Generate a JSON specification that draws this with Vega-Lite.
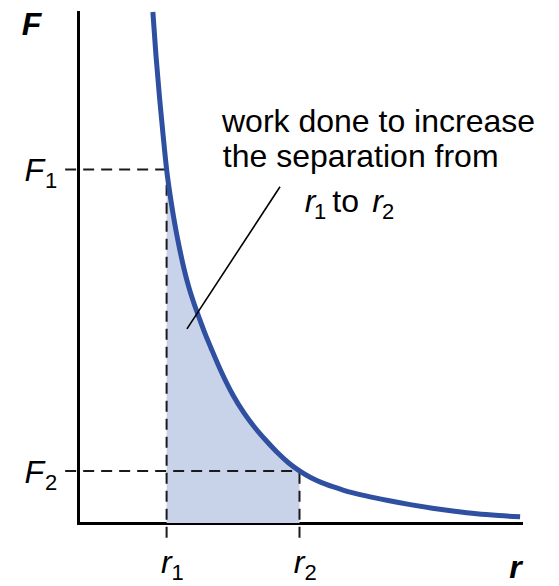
{
  "$schema": "https://vega.github.io/schema/vega-lite/v6.json",
  "width": 443,
  "height": 511,
  "autosize": "none",
  "padding": {"left": 78, "top": 12, "right": 38, "bottom": 63},
  "background": "white",
  "config": {
    "view": {"stroke": null},
    "font": "Liberation Sans",
    "axis": {
      "domainColor": "black",
      "domainWidth": 3,
      "domainCap": "square",
      "ticks": false,
      "labels": false,
      "grid": false,
      "zindex": 1,
      "titleFont": "Liberation Sans",
      "titleFontSize": 32,
      "titleFontStyle": "italic",
      "titleFontWeight": "bold",
      "titleColor": "black",
      "titleAlign": "center",
      "titleBaseline": "alphabetic"
    }
  },
  "datasets": {
    "curve": [
      {"r": 1.69, "F": 10.0},
      {"r": 1.76, "F": 9.15},
      {"r": 1.84, "F": 8.33},
      {"r": 1.92, "F": 7.6},
      {"r": 2.0, "F": 6.92},
      {"r": 2.1, "F": 6.3},
      {"r": 2.2, "F": 5.78},
      {"r": 2.3, "F": 5.34},
      {"r": 2.4, "F": 4.95},
      {"r": 2.5, "F": 4.62},
      {"r": 2.625, "F": 4.28},
      {"r": 2.75, "F": 3.98},
      {"r": 2.875, "F": 3.69},
      {"r": 3.0, "F": 3.43},
      {"r": 3.25, "F": 2.93},
      {"r": 3.5, "F": 2.5},
      {"r": 3.75, "F": 2.15},
      {"r": 4.0, "F": 1.86},
      {"r": 4.25, "F": 1.61},
      {"r": 4.5, "F": 1.38},
      {"r": 4.75, "F": 1.18},
      {"r": 5.0, "F": 1.02},
      {"r": 5.25, "F": 0.89},
      {"r": 5.5, "F": 0.79},
      {"r": 5.75, "F": 0.71},
      {"r": 6.0, "F": 0.64},
      {"r": 6.5, "F": 0.53},
      {"r": 7.0, "F": 0.44},
      {"r": 7.5, "F": 0.36},
      {"r": 8.0, "F": 0.29},
      {"r": 8.5, "F": 0.23},
      {"r": 9.0, "F": 0.18},
      {"r": 9.5, "F": 0.145},
      {"r": 9.98, "F": 0.12}
    ],
    "guides": [
      {"r_a": -0.29, "r_b": 2.0, "F_a": 6.92, "F_b": 6.92},
      {"r_a": -0.29, "r_b": 5.0, "F_a": 1.02, "F_b": 1.02},
      {"r_a": 2.0, "r_b": 2.0, "F_a": -0.29, "F_b": 6.92},
      {"r_a": 5.0, "r_b": 5.0, "F_a": -0.29, "F_b": 1.02}
    ],
    "pointer": [
      {"r_a": 4.56, "F_a": 6.58, "r_b": 2.46, "F_b": 3.8}
    ],
    "forceTicks": [
      {"sym": "F", "sub": "1", "F": 6.92},
      {"sym": "F", "sub": "2", "F": 1.02}
    ],
    "sepTicks": [
      {"sym": "r", "sub": "1", "r": 2.0},
      {"sym": "r", "sub": "2", "r": 5.0}
    ],
    "noteText": [
      {"txt": "work done to increase", "r": 3.25, "F": 7.65},
      {"txt": "the separation from", "r": 3.27, "F": 6.97},
      {"txt": "to", "r": 5.74, "F": 6.09}
    ],
    "noteItalic": [
      {"txt": "r", "r": 5.12, "F": 6.09},
      {"txt": "r", "r": 6.64, "F": 6.09}
    ],
    "noteSub": [
      {"txt": "1", "r": 5.33, "F": 5.95},
      {"txt": "2", "r": 6.86, "F": 5.95}
    ]
  },
  "layer": [
    {
      "data": {"name": "curve"},
      "transform": [{"filter": "datum.r >= 2 && datum.r <= 5"}],
      "mark": {"type": "area", "color": "#c8d3ea", "interpolate": "monotone"},
      "encoding": {
        "x": {
          "field": "r", "type": "quantitative",
          "scale": {"domain": [0, 10], "nice": false, "zero": false},
          "axis": {"title": "r", "titleX": 437, "titleY": 54}
        },
        "y": {
          "field": "F", "type": "quantitative",
          "scale": {"domain": [0, 10], "nice": false, "zero": false},
          "axis": {"title": "F", "titleAngle": 0, "titleX": -47, "titleY": 22}
        }
      }
    },
    {
      "data": {"name": "guides"},
      "mark": {"type": "rule", "color": "#1a1a1a", "strokeWidth": 2, "strokeDash": [11, 7]},
      "encoding": {
        "x": {"field": "r_a", "type": "quantitative"},
        "x2": {"field": "r_b"},
        "y": {"field": "F_a", "type": "quantitative"},
        "y2": {"field": "F_b"}
      }
    },
    {
      "data": {"name": "curve"},
      "mark": {"type": "line", "color": "#2f50a0", "strokeWidth": 5, "interpolate": "monotone", "strokeCap": "butt"},
      "encoding": {
        "x": {"field": "r", "type": "quantitative"},
        "y": {"field": "F", "type": "quantitative"}
      }
    },
    {
      "data": {"name": "pointer"},
      "mark": {"type": "rule", "color": "black", "strokeWidth": 1.6},
      "encoding": {
        "x": {"field": "r_a", "type": "quantitative"},
        "x2": {"field": "r_b"},
        "y": {"field": "F_a", "type": "quantitative"},
        "y2": {"field": "F_b"}
      }
    },
    {
      "data": {"name": "forceTicks"},
      "mark": {"type": "text", "fontSize": 32, "fontStyle": "italic", "align": "right", "baseline": "alphabetic", "dx": -34, "dy": 12, "color": "black"},
      "encoding": {
        "x": {"datum": 0, "type": "quantitative"},
        "y": {"field": "F", "type": "quantitative"},
        "text": {"field": "sym"}
      }
    },
    {
      "data": {"name": "forceTicks"},
      "mark": {"type": "text", "fontSize": 22, "align": "left", "baseline": "alphabetic", "dx": -33, "dy": 19, "color": "black"},
      "encoding": {
        "x": {"datum": 0, "type": "quantitative"},
        "y": {"field": "F", "type": "quantitative"},
        "text": {"field": "sub"}
      }
    },
    {
      "data": {"name": "sepTicks"},
      "mark": {"type": "text", "fontSize": 32, "fontStyle": "italic", "align": "right", "baseline": "alphabetic", "dx": 5, "dy": 50, "color": "black"},
      "encoding": {
        "x": {"field": "r", "type": "quantitative"},
        "y": {"datum": 0, "type": "quantitative"},
        "text": {"field": "sym"}
      }
    },
    {
      "data": {"name": "sepTicks"},
      "mark": {"type": "text", "fontSize": 22, "align": "left", "baseline": "alphabetic", "dx": 5, "dy": 57, "color": "black"},
      "encoding": {
        "x": {"field": "r", "type": "quantitative"},
        "y": {"datum": 0, "type": "quantitative"},
        "text": {"field": "sub"}
      }
    },
    {
      "data": {"name": "noteText"},
      "mark": {"type": "text", "fontSize": 32, "align": "left", "baseline": "alphabetic", "color": "black"},
      "encoding": {
        "x": {"field": "r", "type": "quantitative"},
        "y": {"field": "F", "type": "quantitative"},
        "text": {"field": "txt"}
      }
    },
    {
      "data": {"name": "noteItalic"},
      "mark": {"type": "text", "fontSize": 32, "fontStyle": "italic", "align": "left", "baseline": "alphabetic", "color": "black"},
      "encoding": {
        "x": {"field": "r", "type": "quantitative"},
        "y": {"field": "F", "type": "quantitative"},
        "text": {"field": "txt"}
      }
    },
    {
      "data": {"name": "noteSub"},
      "mark": {"type": "text", "fontSize": 22, "align": "left", "baseline": "alphabetic", "color": "black"},
      "encoding": {
        "x": {"field": "r", "type": "quantitative"},
        "y": {"field": "F", "type": "quantitative"},
        "text": {"field": "txt"}
      }
    }
  ]
}
